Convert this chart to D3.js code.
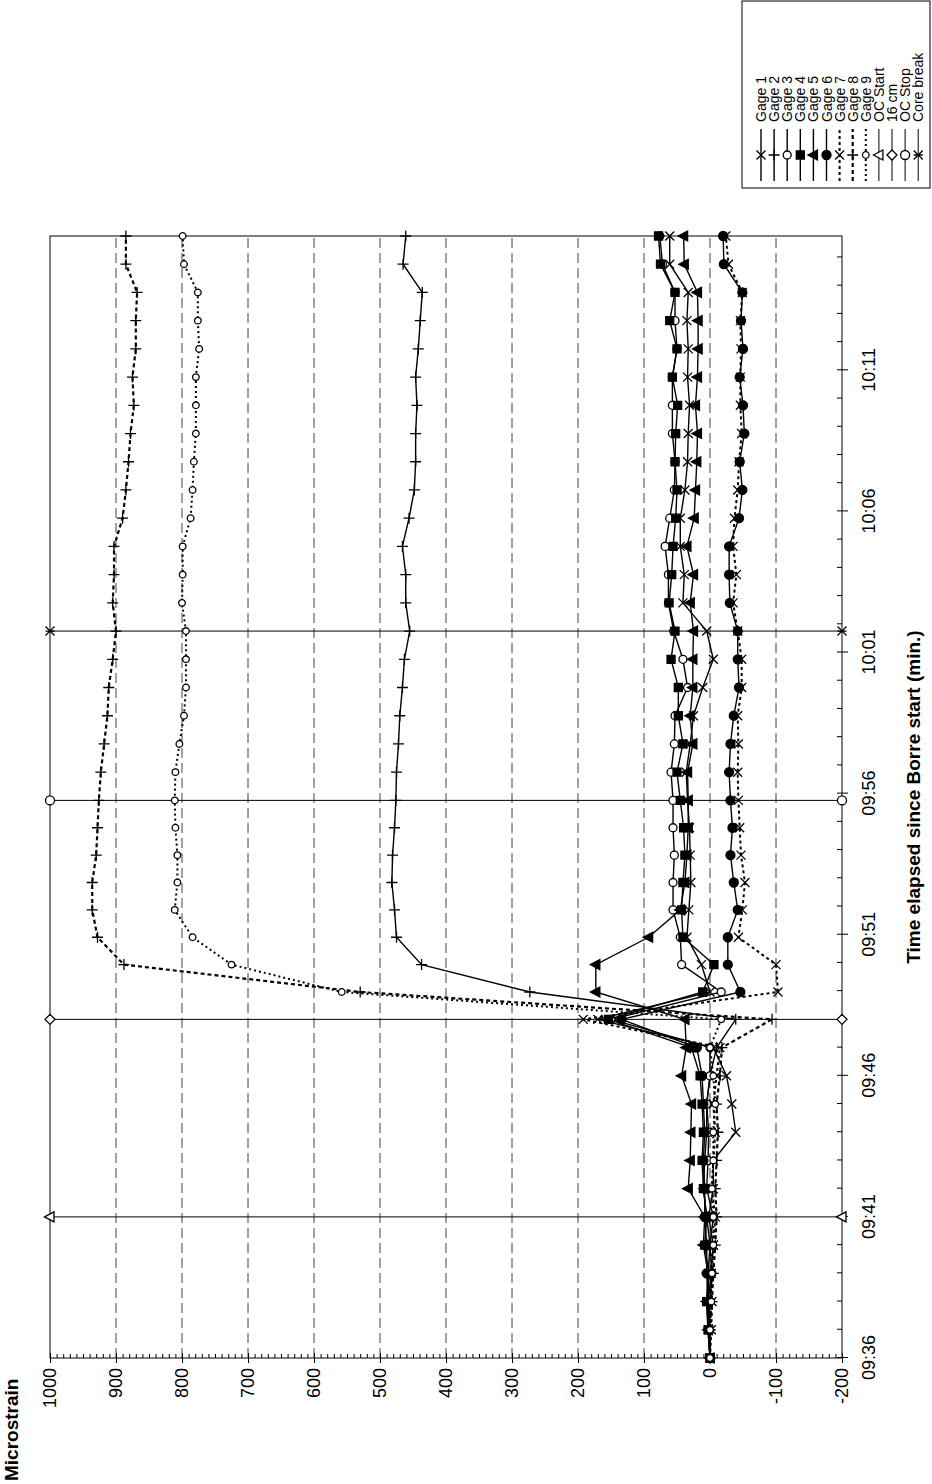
<!DOCTYPE html>
<html>
<head>
<meta charset="utf-8">
<script src="https://cdn.jsdelivr.net/npm/d3@7"></script>
<style>
body { margin: 0; background: #fff; }
svg { display: block; }
text { font-family: "Liberation Sans", Arial, sans-serif; fill: #000; }
</style>
</head>
<body>
<div class="chart"></div>
<script>
var W = 932, H = 1484;

// reading times, minutes after 09:36
var minutes = [0,1,2,3,4,5,6,7,8,9,10,11,12,12.97,13.94,14.91,15.88,16.85,17.82,18.79,19.76,
  20.76,21.76,22.76,23.76,24.76,25.76,26.76,27.76,28.76,29.76,30.76,31.76,32.76,33.76,34.76,35.76,36.76,37.76,38.76,39.76];

var gage1 = [0,2,3,-2,-5,2,-5,-5,-39,-33,-25,-5,170, 0,13,35,32,29,30,31,34,
  36,30,25,11,-5,5,41,39,45,45,38,34,33,31,34,33,35,33,61,61];
var gage2 = [0,0,2,3,0,5,10,8,5,5,0,-10,-39, 273,437,475,478,482,481,478,476,
  475,472,470,466,463,455,461,461,466,456,448,446,446,444,446,442,439,436,465,461];
var gage3 = [0,2,0,-3,0,-5,5,3,2,5,0,0,150, -17,43,45,56,56,54,56,56,
  59,54,53,34,41,55,63,63,68,61,54,53,57,57,57,50,53,53,72,76];
var gage4 = [0,3,5,2,8,5,10,12,10,12,15,28,154, 11,-6,41,43,41,38,40,45,
  50,41,48,48,59,53,62,58,56,52,50,53,52,49,57,50,61,53,75,78];
var gage5 = [0,3,5,3,10,8,33,30,29,28,43,36,38, 173,173,93,45,38,35,33,33,
  34,26,30,26,26,25,30,25,35,24,22,20,19,22,19,18,18,19,39,40];
var gage6 = [0,2,3,5,5,8,8,10,8,10,12,20,134, -46,-27,-27,-42,-36,-31,-34,-31,
  -29,-31,-36,-44,-42,-42,-30,-29,-29,-44,-49,-45,-52,-50,-45,-50,-47,-49,-21,-20];
var gage7 = [0,-2,-3,0,-5,-8,-3,-5,-8,-5,-10,-15,192, -103,-100,-43,-49,-53,-47,-45,-43,
  -42,-43,-42,-48,-48,-42,-35,-40,-35,-37,-42,-44,-48,-46,-46,-47,-46,-49,-28,-24];
var gage8 = [0,0,-3,-5,-8,-10,-8,-10,-12,-10,-15,-18,-94, 530,888,928,936,936,930,928,926,
  923,918,913,911,905,900,905,903,903,890,885,881,878,873,875,870,870,868,885,885];
var gage9 = [0,0,-2,-3,-5,-5,-3,-5,-5,-8,-5,0,-17, 558,725,784,811,807,807,810,811,
  810,804,797,794,794,794,800,799,799,787,784,782,779,779,779,774,776,776,797,799];

var eventNames = ["OC Start", "16 cm", "OC Stop", "Core break"];
var eventMinutes = [5, 12, 19.76, 25.76];

var timeDomain = [0, 39.76];
var xTicks = [0, 5, 10, 15, 20, 25, 30, 35];
var xTickLabels = ["09:36", "09:41", "09:46", "09:51", "09:56", "10:01", "10:06", "10:11"];
var yTicks = [-200, -100, 0, 100, 200, 300, 400, 500, 600, 700, 800, 900, 1000];

var gageNames = ["Gage 1","Gage 2","Gage 3","Gage 4","Gage 5","Gage 6","Gage 7","Gage 8","Gage 9"];
var gageValues = [gage1, gage2, gage3, gage4, gage5, gage6, gage7, gage8, gage9];

var styles = {
  "Gage 1": {mark: "x", s: 4.5, fill: "none", dash: null, w: 1.4},
  "Gage 2": {mark: "plus", s: 5.5, fill: "none", dash: null, w: 1.4},
  "Gage 3": {mark: "circle", s: 4, fill: "#fff", dash: null, w: 1.4},
  "Gage 4": {mark: "square", s: 4, fill: "#000", dash: null, w: 1.4},
  "Gage 5": {mark: "triangle", s: 5, fill: "#000", dash: null, w: 1.4},
  "Gage 6": {mark: "circle", s: 4.5, fill: "#000", dash: null, w: 1.4},
  "Gage 7": {mark: "x", s: 4.5, fill: "none", dash: "3,3", w: 2},
  "Gage 8": {mark: "plus", s: 5.5, fill: "none", dash: "4,3", w: 2.2},
  "Gage 9": {mark: "circle", s: 3.3, fill: "#fff", dash: "2,3", w: 2},
  "OC Start": {mark: "triangle", s: 5, fill: "#fff", dash: null, w: 1},
  "16 cm": {mark: "diamond", s: 5, fill: "#fff", dash: null, w: 1},
  "OC Stop": {mark: "circle", s: 4.5, fill: "#fff", dash: null, w: 1},
  "Core break": {mark: "star", s: 4.5, fill: "none", dash: null, w: 1}
};

function markPath(type, s) {
  switch (type) {
    case "x": return "M" + (-s) + "," + (-s) + "L" + s + "," + s + "M" + (-s) + "," + s + "L" + s + "," + (-s);
    case "plus": return "M" + (-s) + ",0L" + s + ",0M0," + (-s) + "L0," + s;
    case "star": return "M" + (-s) + "," + (-s) + "L" + s + "," + s + "M" + (-s) + "," + s + "L" + s + "," + (-s) + "M0," + (-s) + "L0," + s;
    case "square": return "M" + (-s) + "," + (-s) + "H" + s + "V" + s + "H" + (-s) + "Z";
    case "triangle": return "M0," + (-s * 1.1) + "L" + s + "," + (s * 0.8) + "L" + (-s) + "," + (s * 0.8) + "Z";
    case "diamond": return "M0," + (-s) + "L" + s + ",0L0," + s + "L" + (-s) + ",0Z";
    case "circle": return "M" + s + ",0A" + s + "," + s + " 0 1 1 " + (-s) + ",0A" + s + "," + s + " 0 1 1 " + s + ",0Z";
  }
}

var svg = d3.select(".chart").append("svg")
  .attr("width", W)
  .attr("height", H);

svg.append("rect").attr("width", W).attr("height", H).attr("fill", "#fff");

// chart is drawn upright, then turned a quarter turn to the left
var g = svg.append("g").attr("transform", "translate(0," + H + ") rotate(-90)");

var x = d3.scaleLinear().domain(timeDomain).range([126, 1248]);
var y = d3.scaleLinear().domain([yTicks[0], yTicks[yTicks.length - 1]]).range([842, 50]);

var x0 = x.range()[0], x1 = x.range()[1], yTop = y.range()[1], yBot = y.range()[0];

// grid
g.append("g").selectAll("line")
  .data(yTicks.slice(1, -1))
  .join("line")
    .attr("x1", x0).attr("x2", x1)
    .attr("y1", d => y(d)).attr("y2", d => y(d))
    .attr("stroke", "#444")
    .attr("stroke-width", 1)
    .attr("stroke-dasharray", "10,5");

// axes
function styleAxis(sel) {
  sel.select(".domain").remove();
  sel.selectAll("text").attr("font-size", 18).attr("font-family", "Liberation Sans, Arial, sans-serif");
  sel.selectAll("line").attr("stroke", "#000");
}

g.append("g").attr("transform", "translate(" + x0 + ",0)")
  .call(d3.axisLeft(y).tickValues(d3.range(-200, 1001, 10)).tickSize(-4).tickFormat(""))
  .call(styleAxis);
g.append("g").attr("transform", "translate(" + x0 + ",0)")
  .call(d3.axisLeft(y).tickValues(yTicks).tickSize(-5).tickFormat(""))
  .call(styleAxis);
g.append("g").attr("transform", "translate(" + x0 + ",0)")
  .call(d3.axisLeft(y).tickValues(yTicks).tickSize(5).tickPadding(5).tickFormat(d => String(d)))
  .call(styleAxis);

g.append("g").attr("transform", "translate(0," + yBot + ")")
  .call(d3.axisBottom(x).tickValues(d3.range(0, 40, 1)).tickSize(-5).tickFormat(""))
  .call(styleAxis);
g.append("g").attr("transform", "translate(0," + yBot + ")")
  .call(d3.axisBottom(x).tickValues(xTicks).tickSize(6).tickPadding(14).tickFormat((d, i) => xTickLabels[i]))
  .call(styleAxis);

// plot border
g.append("rect")
  .attr("x", x0).attr("y", yTop)
  .attr("width", x1 - x0).attr("height", yBot - yTop)
  .attr("fill", "none").attr("stroke", "#000").attr("stroke-width", 1);

// titles
g.append("text")
  .attr("x", 3).attr("y", 18)
  .attr("font-size", 19).attr("font-weight", "bold")
  .text("Microstrain");
g.append("text")
  .attr("x", (x0 + x1) / 2).attr("y", 920)
  .attr("text-anchor", "middle")
  .attr("font-size", 19).attr("font-weight", "bold")
  .text("Time elapsed since Borre start (min.)");

function drawMarks(sel, pts, st) {
  sel.selectAll("path.m")
    .data(pts)
    .join("path")
      .attr("class", "m")
      .attr("transform", d => "translate(" + d[0] + "," + d[1] + ")")
      .attr("d", markPath(st.mark, st.s))
      .attr("fill", st.fill)
      .attr("stroke", "#000")
      .attr("stroke-width", 1.3);
}

var line = d3.line();

// event lines
eventNames.forEach(function(name, i) {
  var st = styles[name];
  var pts = [[x(eventMinutes[i]), y(yTicks[0])], [x(eventMinutes[i]), y(yTicks[yTicks.length - 1])]];
  var eg = g.append("g");
  eg.append("path").attr("d", line(pts))
    .attr("fill", "none").attr("stroke", "#000").attr("stroke-width", st.w);
  drawMarks(eg, pts, st);
});

// gages
gageNames.forEach(function(name, i) {
  var st = styles[name];
  var pts = minutes.map((t, j) => [x(t), y(gageValues[i][j])]);
  var sg = g.append("g");
  sg.append("path").attr("d", line(pts))
    .attr("fill", "none").attr("stroke", "#000")
    .attr("stroke-width", st.w)
    .attr("stroke-dasharray", st.dash);
  drawMarks(sg, pts, st);
});

// legend
var legendNames = gageNames.concat(eventNames);
var lg = g.append("g");
lg.append("rect")
  .attr("x", 1296).attr("y", 742)
  .attr("width", 187).attr("height", 188)
  .attr("fill", "#fff").attr("stroke", "#000").attr("stroke-width", 1);

legendNames.forEach(function(name, i) {
  var st = styles[name];
  var cy = 761 + i * 13.1;
  var row = lg.append("g");
  row.append("line")
    .attr("x1", 1303).attr("x2", 1355)
    .attr("y1", cy).attr("y2", cy)
    .attr("stroke", "#000")
    .attr("stroke-width", st.w)
    .attr("stroke-dasharray", st.dash);
  drawMarks(row, [[1329, cy]], st);
  row.append("text")
    .attr("x", 1362).attr("y", cy + 5)
    .attr("font-size", 14)
    .text(name);
});
</script>
</body>
</html>
